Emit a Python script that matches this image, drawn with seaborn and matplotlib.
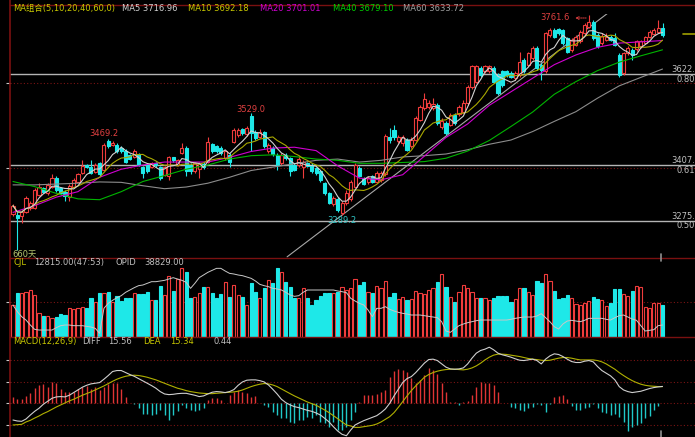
import numpy as np
import pandas as pd
import matplotlib
matplotlib.use("Agg")
import matplotlib.pyplot as plt
from matplotlib.lines import Line2D
import seaborn as sns

# ---------------- data ----------------
open_ = [3292, 3289, 3287, 3295, 3305, 3305, 3337, 3352, 3341, 3356,
         3377, 3352, 3344, 3331, 3355, 3368, 3389, 3407, 3402, 3390,
         3411, 3396, 3464, 3455, 3455, 3447, 3441, 3430, 3425, 3433,
         3402, 3407, 3402, 3411, 3402, 3384, 3380, 3425, 3407, 3436,
         3447, 3407, 3394, 3397, 3410, 3415, 3457, 3451, 3447, 3423,
         3431, 3462, 3478, 3492, 3480, 3523, 3484, 3474, 3484, 3441,
         3447, 3431, 3411, 3431, 3423, 3407, 3407, 3403, 3411, 3407,
         3399, 3392, 3364, 3341, 3315, 3326, 3293, 3317, 3326, 3356,
         3400, 3373, 3366, 3380, 3368, 3372, 3386, 3474, 3490, 3463,
         3459, 3467, 3451, 3467, 3514, 3541, 3544, 3541, 3549, 3496,
         3506, 3502, 3526, 3528, 3533, 3553, 3591, 3604, 3636, 3628,
         3628, 3636, 3620, 3628, 3628, 3624, 3612, 3620, 3655, 3644,
         3659, 3683, 3644, 3628, 3714, 3726, 3728, 3725, 3707, 3679,
         3691, 3699, 3718, 3734, 3746, 3714, 3695, 3703, 3710, 3707,
         3667, 3624, 3671, 3679, 3681, 3687, 3696, 3710, 3717, 3722,
         3730]
high = [3314, 3297, 3300, 3333, 3321, 3352, 3364, 3356, 3364, 3385,
        3380, 3356, 3348, 3362, 3376, 3389, 3419, 3409, 3419, 3411,
        3415, 3459, 3469.2, 3464, 3459, 3451, 3444, 3433, 3444, 3436,
        3405, 3411, 3414, 3414, 3405, 3405, 3429, 3427, 3422, 3459,
        3451, 3411, 3415, 3415, 3413, 3473, 3460, 3454, 3451, 3443,
        3435, 3494, 3494, 3495, 3498, 3529, 3490, 3492, 3488, 3459,
        3451, 3435, 3435, 3435, 3427, 3411, 3429, 3419, 3415, 3411,
        3403, 3396, 3368, 3344, 3333, 3331, 3323, 3347, 3372, 3411,
        3404, 3378, 3380, 3384, 3394, 3392, 3481, 3494, 3502, 3478,
        3478, 3470, 3473, 3522, 3549, 3577, 3561, 3565, 3553, 3518,
        3510, 3530, 3530, 3549, 3561, 3596, 3644, 3644, 3640, 3644,
        3644, 3640, 3624, 3632, 3632, 3628, 3630, 3675, 3659, 3675,
        3687, 3687, 3648, 3722, 3730, 3730, 3730, 3728, 3710, 3707,
        3714, 3726, 3742, 3761.6, 3750, 3718, 3718, 3718, 3714, 3718,
        3671, 3675, 3687, 3683, 3703, 3703, 3712, 3726, 3730, 3750,
        3742]
low = [3286, 3207, 3270, 3293, 3301, 3303, 3333, 3341, 3337, 3352,
       3344, 3337, 3323, 3321, 3352, 3366, 3386, 3399, 3385, 3388,
       3381, 3392, 3447, 3451, 3436, 3435, 3411, 3419, 3423, 3405,
       3376, 3389, 3399, 3403, 3372, 3380, 3372, 3414, 3405, 3433,
       3381, 3386, 3389, 3376, 3397, 3411, 3435, 3435, 3431, 3419,
       3402, 3459, 3474, 3479, 3476, 3439, 3466, 3470, 3447, 3436,
       3429, 3396, 3407, 3419, 3380, 3392, 3403, 3376, 3402, 3388,
       3384, 3368, 3337, 3315, 3311, 3297, 3289.2, 3313, 3321, 3352,
       3378, 3359, 3363, 3364, 3364, 3366, 3381, 3460, 3467, 3459,
       3451, 3439, 3447, 3463, 3510, 3537, 3539, 3537, 3502, 3492,
       3478, 3498, 3502, 3523, 3530, 3549, 3586, 3600, 3616, 3624,
       3624, 3600, 3573, 3592, 3616, 3612, 3608, 3616, 3624, 3640,
       3655, 3632, 3608, 3625, 3710, 3707, 3714, 3691, 3671, 3675,
       3687, 3695, 3714, 3730, 3703, 3683, 3691, 3699, 3699, 3687,
       3614, 3620, 3667, 3655, 3677, 3683, 3693, 3706, 3714, 3718,
       3710]
close = [3311, 3281, 3295, 3329, 3317, 3348, 3356, 3344, 3360, 3376,
         3348, 3341, 3333, 3358, 3372, 3385, 3405, 3402, 3388, 3407,
         3386, 3455, 3451, 3460, 3441, 3439, 3415, 3422, 3441, 3407,
         3389, 3394, 3411, 3406, 3376, 3402, 3425, 3418, 3419, 3447,
         3392, 3392, 3411, 3411, 3402, 3462, 3439, 3439, 3435, 3439,
         3415, 3490, 3490, 3482, 3494, 3482, 3470, 3486, 3451, 3455,
         3433, 3407, 3431, 3423, 3392, 3396, 3421, 3415, 3405, 3392,
         3388, 3372, 3341, 3318, 3329, 3301, 3318, 3342, 3368, 3407,
         3381, 3363, 3376, 3368, 3389, 3388, 3476, 3465, 3473, 3474,
         3474, 3443, 3467, 3518, 3545, 3562, 3553, 3551, 3506, 3510,
         3482, 3526, 3506, 3545, 3553, 3591, 3640, 3641, 3620, 3641,
         3640, 3604, 3577, 3596, 3620, 3616, 3625, 3651, 3628, 3671,
         3683, 3636, 3632, 3718, 3726, 3710, 3718, 3695, 3675, 3703,
         3710, 3722, 3738, 3746, 3707, 3687, 3712, 3710, 3703, 3691,
         3620, 3671, 3683, 3667, 3699, 3699, 3709, 3722, 3726, 3730,
         3714]
volume = [12800, 17500, 17500, 18100, 18800, 16800, 9500, 8500, 8400, 7700,
          8100, 9100, 8800, 11500, 11100, 11700, 12100, 11700, 15500, 14100,
          17500, 17500, 17900, 14100, 16500, 14400, 15500, 15700, 17500, 17100,
          17100, 17900, 14800, 14800, 20400, 16800, 24500, 18400, 23200, 27700,
          26100, 15500, 16100, 17500, 20100, 20100, 17500, 15700, 17100, 22100,
          16100, 20800, 16800, 16100, 12800, 21500, 18100, 15700, 19500, 22800,
          21500, 27500, 26100, 22100, 20100, 15500, 15500, 19500, 15700, 12800,
          14800, 16500, 17500, 17500, 17500, 17900, 20100, 18800, 19500, 23200,
          20800, 21900, 18100, 17500, 20500, 19500, 22400, 15900, 17500, 15200,
          15900, 14800, 15100, 18400, 17500, 17100, 18800, 19500, 21900, 25200,
          20100, 16100, 13900, 18100, 20800, 19700, 18100, 15500, 15700, 15700,
          14800, 15500, 16500, 16500, 16500, 13900, 15100, 19500, 19700, 18100,
          16800, 22400, 21500, 25100, 22400, 18500, 15200, 15500, 16800, 15500,
          13100, 12800, 13500, 14400, 16100, 15200, 14800, 12500, 13500, 19200,
          19200, 17100, 16400, 18400, 20500, 19900, 11900, 11500, 13500, 13500,
          12815]
opid = [48830, 45490, 42990, 41320, 38820, 36660, 36320, 36320, 36320, 36320,
        37490, 38490, 38820, 38820, 38490, 38490, 38490, 38160, 37820, 37160,
        34660, 47160, 49660, 51160, 52490, 53490, 55160, 56330, 57490, 58490,
        58830, 59660, 60490, 60490, 60830, 61160, 61830, 62490, 61830, 61160,
        60160, 57160, 59660, 62490, 63830, 65160, 66160, 67160, 67160, 65830,
        64660, 64330, 63830, 63490, 62830, 62160, 60830, 59160, 58490, 57990,
        57160, 56830, 56330, 55160, 53830, 53160, 53490, 55160, 56330, 56330,
        56330, 56330, 56330, 56330, 56330, 55830, 55490, 54990, 52160, 50830,
        49660, 48830, 46320, 42990, 47160, 47160, 47990, 46660, 45820, 45160,
        44660, 44320, 43820, 43820, 43820, 43490, 43160, 42820, 42490, 40490,
        35820, 35160, 36820, 38490, 39320, 39990, 40490, 40990, 41320, 41320,
        41320, 41320, 41320, 41320, 41320, 41660, 42160, 42490, 42820, 42820,
        42820, 43320, 44490, 42490, 40490, 37990, 36820, 39320, 40820, 41160,
        40820, 40490, 41160, 42160, 42160, 42160, 42160, 41660, 41320, 42490,
        43490, 43820, 42820, 41830, 41160, 38490, 35820, 36160, 36490, 38490,
        38829]
macd_diff = [-15.4, -16.3, -16.6, -14.5, -10.8, -7.4, -4.6, -0.9, 1.8, 4.6,
             5.9, 6.2, 5.9, 7.4, 9.9, 12.3, 14.8, 16.6, 17.9, 18.5,
             19.1, 22.2, 25.6, 29.3, 30.2, 30.2, 28.3, 26.5, 24.9, 22.8,
             20.6, 18.5, 16.3, 13.9, 10.8, 8.6, 8.0, 8.3, 8.9, 9.2,
             9.2, 8.3, 7.4, 6.2, 6.8, 8.6, 10.2, 10.8, 10.5, 9.9,
             10.8, 12.6, 16.6, 19.7, 21.3, 21.6, 21.6, 20.9, 19.7, 16.9,
             12.9, 8.6, 3.7, 0.6, -1.5, -3.1, -4.0, -5.2, -6.5, -7.4,
             -8.9, -10.8, -13.9, -17.2, -21.6, -25.6, -28.6, -29.9, -24.6, -20.0,
             -17.9, -16.0, -14.5, -12.9, -11.4, -8.6, -5.2, 0.0, 6.8, 12.9,
             19.1, 22.8, 24.6, 28.3, 32.6, 37.0, 40.3, 40.7, 39.4, 36.3,
             33.3, 31.7, 31.4, 31.7, 32.6, 36.3, 41.6, 46.2, 48.7, 49.9,
             51.7, 49.3, 46.2, 44.7, 43.7, 42.5, 41.0, 39.7, 39.4, 40.0,
             40.7, 39.4, 36.3, 40.7, 43.7, 45.6, 45.0, 43.1, 40.7, 38.5,
             37.6, 37.6, 38.8, 39.4, 38.2, 33.9, 30.2, 27.7, 25.3, 21.6,
             15.4, 12.3, 10.8, 9.9, 10.5, 11.1, 12.3, 13.6, 14.5, 15.1,
             15.56]
macd_dea = [-20.0, -19.7, -19.4, -17.2, -15.7, -13.6, -11.7, -9.5, -7.7, -5.5,
            -3.4, -1.5, 0.3, 2.2, 3.7, 5.5, 7.4, 8.9, 10.5, 12.3,
            14.2, 16.0, 18.2, 20.3, 22.2, 23.7, 24.9, 25.6, 25.9, 25.6,
            24.9, 24.0, 22.8, 21.6, 20.0, 18.5, 16.9, 15.4, 13.9, 12.9,
            11.7, 10.8, 10.2, 9.5, 9.2, 8.9, 8.9, 9.2, 9.5, 9.9,
            10.2, 10.5, 11.1, 12.3, 13.9, 15.4, 16.6, 17.6, 18.2, 17.9,
            16.9, 15.4, 13.2, 11.1, 8.9, 6.8, 4.9, 3.1, 1.2, -0.3,
            -1.8, -4.0, -6.2, -8.6, -11.4, -14.2, -17.2, -20.0, -20.9, -22.2,
            -22.2, -21.6, -20.9, -20.3, -19.1, -17.2, -14.8, -12.3, -8.6, -3.7,
            1.5, 6.8, 11.7, 16.0, 20.0, 24.0, 26.5, 28.3, 29.6, 30.5,
            31.1, 31.4, 31.4, 31.1, 30.8, 31.4, 32.6, 34.5, 37.0, 40.0,
            42.5, 44.4, 45.3, 45.3, 45.0, 44.4, 43.7, 43.1, 42.2, 41.3,
            40.7, 40.3, 39.7, 39.4, 39.7, 40.7, 41.6, 42.2, 42.2, 41.6,
            40.7, 40.0, 40.0, 40.0, 40.0, 39.4, 38.2, 36.3, 33.9, 31.4,
            28.3, 25.6, 23.1, 20.9, 19.1, 17.6, 16.6, 16.0, 15.7, 15.4,
            15.34]
macd_hist = [6.2, 3.7, 3.7, 6.8, 9.2, 13.9, 16.9, 17.6, 15.4, 20.0,
             18.5, 12.9, 10.8, 10.8, 10.8, 12.9, 15.4, 16.0, 12.9, 14.8,
             12.3, 15.4, 17.9, 19.1, 18.5, 12.9, 6.2, 0.6, -0.6, -4.6,
             -9.9, -9.9, -10.8, -9.9, -6.2, -10.8, -15.4, -10.8, -6.8, -1.5,
             -4.6, -6.2, -6.8, -6.2, -4.6, 3.1, 4.6, 4.6, 3.1, 0.3,
             7.7, 10.8, 12.3, 10.8, 9.9, 6.2, 6.8, 0.6, -1.5, -3.1,
             -7.7, -10.8, -13.9, -13.9, -16.9, -18.5, -15.4, -15.4, -12.3, -13.9,
             -10.8, -16.9, -18.5, -21.6, -16.9, -24.6, -24.6, -21.6, -15.4, -7.7,
             1.5, 7.7, 7.7, 7.7, 8.6, 10.8, 12.3, 24.0, 30.2, 31.4,
             30.8, 29.3, 23.1, 18.5, 21.6, 26.2, 32.3, 30.8, 27.1, 19.1,
             10.8, 1.5, 0.9, -1.5, 0.9, 2.2, 7.7, 15.4, 20.0, 18.5,
             18.5, 16.9, 10.8, 0.6, 0.3, -3.1, -4.6, -6.2, -6.8, -4.6,
             -3.1, -0.6, -1.5, -7.7, -0.6, 6.2, 6.8, 7.7, 3.7, -2.5,
             -6.2, -6.2, -4.6, -3.1, -0.6, -4.6, -7.7, -9.2, -10.8, -9.9,
             -12.3, -16.9, -25.3, -21.6, -20.0, -18.5, -13.9, -11.7, -6.2, -2.5,
             0.44]
ma_idx = list(range(0, 151, 5))
ma20 = [3295, 3311, 3331, 3344, 3378, 3397, 3407, 3414, 3414, 3414, 3425,
        3439, 3447, 3449, 3441, 3405, 3376, 3372, 3384, 3428, 3472, 3504,
        3548, 3580, 3612, 3644, 3667, 3685, 3695, 3698, 3701.01]
ma40 = [3368, 3356, 3340, 3327, 3325, 3344, 3368, 3382, 3397, 3407, 3421,
        3429, 3431, 3427, 3421, 3418, 3411, 3411, 3413, 3415, 3423, 3440,
        3465, 3498, 3532, 3574, 3604, 3630, 3650, 3665, 3679.10]
ma60 = [3360, 3360, 3362, 3364, 3367, 3366, 3358, 3351, 3355, 3364, 3378,
        3394, 3402, 3410, 3418, 3421, 3414, 3418, 3426, 3429, 3433, 3443,
        3456, 3466, 3486, 3510, 3533, 3565, 3594, 3614, 3633.72]
fib_prices = [3622.0, 3407.0, 3275.0]
fib_price_labels = ["3622.", "3407.", "3275."]
fib_ratio_labels = ["0.80", "0.61", "0.50"]
trend_idx = [63.3, 137.4]
trend_price = [3190.0, 3766.0]

# ---------------- styling ----------------
W, H = 695, 437
sns.set_theme(style="dark")
plt.rcParams['font.family'] = ['DejaVu Sans', 'Noto Sans CJK SC']
plt.rcParams['axes.unicode_minus'] = False

RED = '#f03c3c'
CYAN = '#1ee8e8'
YEL = '#c8c800'
MAG = '#d000d0'
GRN = '#00b400'
GRAY = '#8c8c8c'
WHT = '#d2d2d2'
GRID = '#7a1414'
TXT = '#c0c0c0'
FS = 6

fig = plt.figure(figsize=(W / 100, H / 100), dpi=100, facecolor='black')


def px_axes(l, t, r, b):
    ax = fig.add_axes([l / W, 1 - b / H, (r - l) / W, (b - t) / H])
    ax.set_facecolor('black')
    for s in ax.spines.values():
        s.set_visible(False)
    ax.grid(False)
    return ax


PXB = 4.33
XMIN = -(13 - 10) / PXB
XMAX = XMIN + 685 / PXB

o = np.array(open_, float)
c = np.array(close, float)
h = np.array(high, float)
lo = np.array(low, float)
x = np.arange(len(c))
up = c >= o
cols = np.where(up, RED, CYAN)
faces = np.where(up, 'black', CYAN)

# ---------- main price panel ----------
ax = px_axes(10, 14, 695, 258)
ax.set_xlim(XMIN, XMAX)
ax.set_ylim(3622 - (258 - 74) * 2.3626, 3622 + (74 - 14) * 2.3626)
for g in (3400, 3600):
    ax.axhline(g, color=GRID, lw=0.8, ls=(0, (1, 2)), zorder=0)
for p in fib_prices:
    ax.axhline(p, color='#b4b4b4', lw=1.0, zorder=1)
ax.plot(trend_idx, trend_price, color='#a8a8a8', lw=0.8, zorder=1)

ax.vlines(x, lo, h, colors=cols, lw=0.8, zorder=2)
ax.bar(x, np.maximum(np.abs(c - o), 0.6), bottom=np.minimum(o, c), width=0.72,
       color=faces, edgecolor=cols, linewidth=0.8, zorder=3)

cs = pd.Series(c)
ma5 = cs.rolling(5, min_periods=1).mean()
ma10 = cs.rolling(10, min_periods=1).mean()
sns.lineplot(x=ma_idx, y=ma60, ax=ax, color=GRAY, lw=0.8, legend=False, zorder=4)
sns.lineplot(x=ma_idx, y=ma40, ax=ax, color=GRN, lw=0.8, legend=False, zorder=4)
sns.lineplot(x=ma_idx, y=ma20, ax=ax, color=MAG, lw=0.8, legend=False, zorder=4)
sns.lineplot(x=x, y=ma10, ax=ax, color='#a8a800', lw=0.8, legend=False, zorder=4)
sns.lineplot(x=x, y=ma5, ax=ax, color=WHT, lw=0.8, legend=False, zorder=4)

ax.set_xticks([])
ax.set_yticks([3400, 3600])
ax.tick_params(axis='y', left=True, length=3, width=0.8, color='#c8c8c8', labelleft=False)
ax.set_xlabel('')
ax.set_ylabel('')

# price annotations
pp = 2.3626
ax.text(21, 3622 - (134 - 74) * pp, "3469.2", color='#e04040', fontsize=FS, ha='center', va='center')
ax.text(55, 3622 - (109 - 74) * pp, "3529.0", color='#e04040', fontsize=FS, ha='center', va='center')
ax.text(76, 3622 - (220 - 74) * pp, "3289.2", color='#30c8c8', fontsize=FS, ha='center', va='center')
ax.text(128.6, 3622 - (18 - 74) * pp, "3761.6", color='#e04040', fontsize=FS, ha='right', va='center')
ax.annotate('', xy=(129.2, 3622 - (18 - 74) * pp), xytext=(133.0, 3622 - (18 - 74) * pp),
            arrowprops=dict(arrowstyle='->', color='#e04040', lw=0.7, ls=(0, (1, 1)),
                            mutation_scale=5))

# ---------- volume panel ----------
axv = px_axes(10, 258, 695, 337)
axv.set_xlim(XMIN, XMAX)
axv.set_ylim(0, 79 * 400)
axv.axhline(14000, color=GRID, lw=0.8, ls=(0, (1, 2)), zorder=0)
axv.bar(x, volume, width=0.74, color=faces, edgecolor=cols, linewidth=0.8, zorder=2)
axv.set_xticks([])
axv.set_yticks([14000])
axv.tick_params(axis='y', left=True, length=3, width=0.8, color='#c8c8c8', labelleft=False)
axo = axv.twinx()
axo.set_ylim(38829 - (337 - 325) * 500, 38829 + (325 - 258) * 500)
axo.set_xlim(XMIN, XMAX)
for s in axo.spines.values():
    s.set_visible(False)
axo.grid(False)
sns.lineplot(x=x, y=opid, ax=axo, color='#c8c8c8', lw=0.7, legend=False, zorder=3)
axo.set_yticks([])
axo.set_ylabel('')

# ---------- MACD panel ----------
axm = px_axes(10, 337, 695, 437)
axm.set_xlim(XMIN, XMAX)
axm.set_ylim((403.3 - 437) * 0.9217, (403.3 - 337) * 0.9217)
for g in (-20, 0, 20, 40):
    axm.axhline(g, color=GRID, lw=0.8, ls=(0, (1, 2)), zorder=0)
hist = np.array(macd_hist)
axm.vlines(x, 0, hist, colors=np.where(hist >= 0, '#e03434', '#20c8c8'), lw=1.0, zorder=2)
sns.lineplot(x=x, y=macd_dea, ax=axm, color='#b0b000', lw=0.8, legend=False, zorder=3)
sns.lineplot(x=x, y=macd_diff, ax=axm, color='#cfcfcf', lw=0.8, legend=False, zorder=4)
axm.set_xticks([])
axm.set_yticks([-20, 0, 20, 40])
axm.tick_params(axis='y', left=True, length=3, width=0.8, color='#c8c8c8', labelleft=False)
axm.set_ylabel('')

# ---------- frame lines ----------
def fline(x1, y1, x2, y2, color, lw=1.0):
    fig.add_artist(Line2D([x1 / W, x2 / W], [1 - y1 / H, 1 - y2 / H], color=color, lw=lw))

fline(10, 4.5, 695, 4.5, '#7a1010', 1.0)
fline(10, 258, 695, 258, '#7a1010', 1.0)
fline(10, 337, 695, 337, '#7a1010', 1.0)
fline(10, 0, 10, 437, '#7a1010', 1.2)
fline(683, 34, 695, 34, '#a0a000', 1.2)
# current-bar markers at the last candle
fline(660.5, 254, 660.5, 261, '#909090', 1.2)
fline(660.5, 431, 660.5, 437, '#909090', 1.2)

# ---------- texts ----------
def T(px, py, s, color, ha='left'):
    fig.text(px / W, 1 - py / H, s, color=color, fontsize=FS, ha=ha, va='center')

T(13, 8.5, "MA组合(5,10,20,40,60,0)", YEL)
T(122, 8.5, "MA5 3716.96", WHT)
T(188, 8.5, "MA10 3692.18", YEL)
T(260, 8.5, "MA20 3701.01", MAG)
T(333, 8.5, "MA40 3679.10", '#00d000')
T(403, 8.5, "MA60 3633.72", '#a0a0a0')

for p, lab, rat in zip(fib_prices, fib_price_labels, fib_ratio_labels):
    yp = 74 + (3622 - p) / pp
    T(695, yp - 4.5, lab, TXT, ha='right')
    T(695, yp + 5, rat, TXT, ha='right')

T(12, 254, "660天", '#b8c870')

T(14, 262.5, "CJL", YEL)
T(34, 262.5, "12815.00(47:53)", TXT)
T(115, 262.5, "OPID", TXT)
T(144, 262.5, "38829.00", TXT)

T(13, 341.5, "MACD(12,26,9)", YEL)
T(82, 341.5, "DIFF", TXT)
T(108, 341.5, "15.56", TXT)
T(143, 341.5, "DEA", YEL)
T(170, 341.5, "15.34", YEL)
T(213, 341.5, "0.44", TXT)

fig.savefig("out.png", dpi=100, facecolor='black')
